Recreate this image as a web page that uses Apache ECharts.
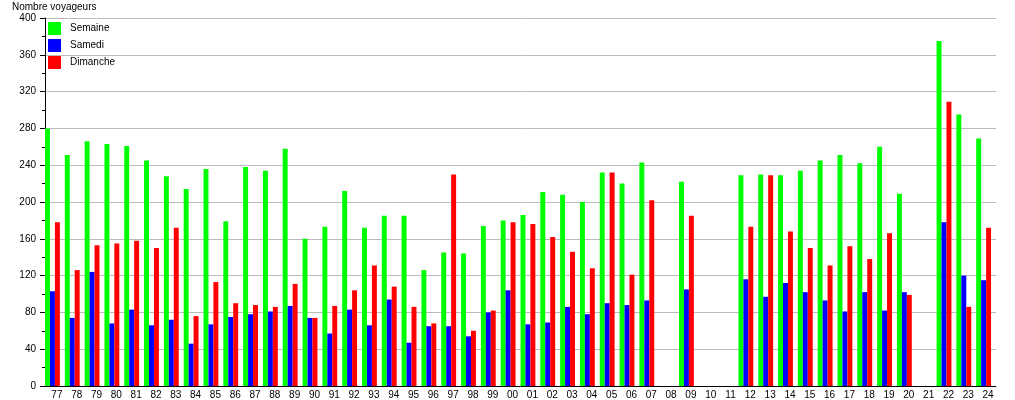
<!DOCTYPE html>
<html>
<head>
<meta charset="utf-8">
<script src="https://cdn.jsdelivr.net/npm/echarts@6/dist/echarts.min.js"></script>
<style>
html,body{margin:0;padding:0;background:#fff;}
#chart{width:1015px;height:400px;}
</style>
</head>
<body>
<div id="chart"></div>
<script>
const categories = ['77','78','79','80','81','82','83','84','85','86','87','88','89','90','91','92','93','94','95','96','97','98','99','00','01','02','03','04','05','06','07','08','09','10','11','12','13','14','15','16','17','18','19','20','21','22','23','24'];
const semaine = [280,251,266,263,261,245,228,214,236,179,238,234,258,160,173,212,172,185,185,126,145,144,174,180,186,211,208,200,232,220,243,null,222,null,null,229,230,229,234,245,251,242,260,209,null,375,295,269];
const samedi = [103,74,124,68,83,66,72,46,67,75,78,81,87,74,57,83,66,94,47,65,65,54,80,104,67,69,86,78,90,88,93,null,105,null,null,116,97,112,102,93,81,102,82,102,null,178,120,115];
const dimanche = [178,126,153,155,158,150,172,76,113,90,88,86,111,74,87,104,131,108,86,68,230,60,82,178,176,162,146,128,232,121,202,null,185,null,null,173,229,168,150,131,152,138,166,99,null,309,86,172];
const yTicks = {min:0, max:400, interval:40};

const font = 'Liberation Sans, Arial, sans-serif';
const chart = echarts.init(document.getElementById('chart'));
chart.setOption({
  animation: false,
  backgroundColor: '#fff',
  title: {
    text: 'Nombre voyageurs', left: 7, top: -3,
    textStyle: {fontFamily: font, fontSize: 10, fontWeight: 'normal', color: '#000'}
  },
  legend: {
    data: ['Semaine','Samedi','Dimanche'],
    orient: 'vertical', left: 43, top: 17,
    itemWidth: 13, itemHeight: 13, itemGap: 4, icon: 'rect',
    textStyle: {fontFamily: font, fontSize: 10, color: '#000', padding: [0,0,0,4]}
  },
  grid: {left: 45, right: 19, top: 18, bottom: 13, containLabel: false},
  xAxis: {
    type: 'category', data: categories,
    axisLine: {lineStyle: {color: '#000', width: 1}},
    axisTick: {show: false},
    axisLabel: {fontFamily: font, fontSize: 10, color: '#000', margin: 4, padding: [0,0,0,4], interval: 0}
  },
  yAxis: {
    type: 'value', min: yTicks.min, max: yTicks.max, interval: yTicks.interval,
    axisLine: {show: true, lineStyle: {color: '#000'}},
    axisTick: {show: true, length: 5, lineStyle: {color: '#000'}},
    minorTick: {show: true, splitNumber: 2, length: 3, lineStyle: {color: '#000'}},
    axisLabel: {fontFamily: font, fontSize: 10, color: '#000', margin: 9},
    splitLine: {lineStyle: {color: '#bbb', width: 1}}
  },
  series: [
    {name: 'Semaine', type: 'bar', data: semaine, itemStyle: {color: '#00ff00'}, barGap: '0%', barCategoryGap: '0%'},
    {name: 'Samedi', type: 'bar', data: samedi, itemStyle: {color: '#0000ff'}},
    {name: 'Dimanche', type: 'bar', data: dimanche, itemStyle: {color: '#ff0000'}},
    {name: 'spacer', type: 'bar', data: categories.map(() => null), itemStyle: {color: 'rgba(0,0,0,0)'}, silent: true}
  ]
});
</script>
</body>
</html>
